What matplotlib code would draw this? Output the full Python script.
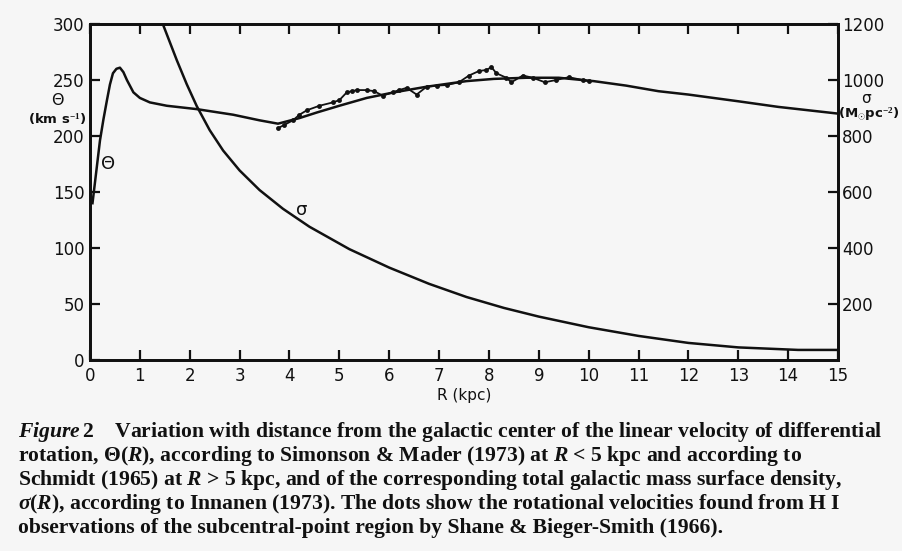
import matplotlib
matplotlib.use("Agg")
import matplotlib.pyplot as plt

plt.rcParams["font.family"] = ["DejaVu Sans"]
plt.rcParams["mathtext.fontset"] = "custom"
plt.rcParams["mathtext.rm"] = "Liberation Serif:bold"
plt.rcParams["mathtext.it"] = "Liberation Serif:italic:bold"

# Rotation curve Theta(R), km/s
theta_r = [0.05, 0.2, 0.27, 0.34, 0.4, 0.46, 0.53, 0.6, 0.67, 0.74, 0.87, 1.0,
           1.2, 1.54, 2.14, 2.87, 3.4, 3.77, 4.2, 4.55, 5.0, 5.55, 6.1, 6.75,
           7.55, 8.1, 8.75, 9.4, 10.1, 10.75, 11.4, 12.0, 13.0, 13.8, 15.0]
theta_v = [140, 196, 215, 232, 246, 256, 260, 261, 257, 250, 239, 234,
           230, 227, 224, 219, 214, 211, 216, 221, 227, 234, 239, 244,
           249, 251, 252, 252, 249, 245, 240, 237, 231, 226, 220]

# HI subcentral-point velocities (Shane & Bieger-Smith 1966)
dots_r = [3.77, 3.9, 4.07, 4.2, 4.35, 4.6, 4.87, 5.0, 5.15, 5.25, 5.35, 5.55, 5.7,
          5.87, 6.07, 6.2, 6.35, 6.55, 6.75, 6.95, 7.15, 7.4, 7.6, 7.8, 7.95,
          8.05, 8.15, 8.35, 8.45, 8.68, 8.88, 9.12, 9.35, 9.6, 9.88, 10.0]
dots_v = [207, 210, 214, 219, 223, 227, 230, 232, 239, 240, 241, 241, 240,
          236, 239, 241, 243, 237, 244, 245, 245.5, 248, 254, 258, 259,
          261.5, 256, 252, 248, 254, 252, 248, 250, 252.5, 250, 249]

# Surface mass density sigma(R), Msun/pc^2
sigma_r = [1.3, 1.46, 1.74, 1.94, 2.14, 2.4, 2.67, 3.0, 3.4, 3.87, 4.4, 5.2, 6.0,
           6.8, 7.55, 8.3, 9.0, 10.0, 11.0, 12.0, 13.0, 14.2, 15.0]
sigma_v = [1330, 1200, 1071, 985, 907, 821, 748, 677, 607, 540, 476, 396, 330,
           272, 225, 186, 155, 117, 86, 61, 45, 36, 36]

x_ticks = list(range(0, 16))
theta_ticks = [0, 50, 100, 150, 200, 250, 300]
sigma_ticks = [200, 400, 600, 800, 1000, 1200]

caption_lines = [
    r"$\it{Figure\/2}$    Variation with distance from the galactic center of the linear velocity of differential",
    r"rotation, $\Theta(R)$, according to Simonson & Mader (1973) at $R$ < 5 kpc and according to",
    r"Schmidt (1965) at $R$ > 5 kpc, and of the corresponding total galactic mass surface density,",
    r"$\sigma(R)$, according to Innanen (1973). The dots show the rotational velocities found from H I",
    r"observations of the subcentral-point region by Shane & Bieger-Smith (1966).",
]

W, H = 902, 551
bg = "#f6f6f6"
ink = "#111111"

fig = plt.figure(figsize=(W / 100, H / 100), dpi=100, facecolor=bg)
ax = fig.add_axes([90 / W, 1 - 360 / H, (838 - 90) / W, (360 - 24) / H])
ax.set_facecolor(bg)
ax2 = ax.twinx()

ax.plot(theta_r, theta_v, color=ink, lw=1.8, solid_joinstyle="round")
ax.plot(dots_r, dots_v, color=ink, lw=1.3, marker="o", ms=3.5, mew=0)
ax2.plot(sigma_r, sigma_v, color=ink, lw=1.8, solid_joinstyle="round")

ax.set_xlim(0, 15)
ax.set_ylim(0, 300)
ax2.set_ylim(0, 1200)

ax.set_xticks(x_ticks)
ax.set_yticks(theta_ticks)
ax2.set_yticks(sigma_ticks)
ax.tick_params(axis="both", direction="in", length=7, width=1.6, labelsize=12,
               colors=ink, top=True, pad=4)
ax.tick_params(axis="x", pad=5)
ax2.tick_params(axis="y", direction="in", length=7, width=1.6, labelsize=12,
                colors=ink, pad=3)
for a in (ax, ax2):
    for s in a.spines.values():
        s.set_linewidth(2.0)
        s.set_color(ink)

ax.set_xlabel("R (kpc)", fontsize=11, color=ink, labelpad=2)

# Axis titles beside the tick labels
fig.text(57 / W, 1 - 100 / H, "Θ", ha="center", va="center", fontsize=11.5, color=ink)
fig.text(57 / W, 1 - 119 / H, "(km s$^{-1}$)", ha="center", va="center", fontsize=9.5,
         color=ink, fontweight="bold")
fig.text(866 / W, 1 - 99 / H, "σ", ha="center", va="center", fontsize=11, color=ink)
fig.text(869 / W, 1 - 114 / H, "(M$_{\\odot}$pc$^{-2}$)", ha="center", va="center",
         fontsize=9.5, color=ink, fontweight="bold")

# Curve labels
ax.text(0.36, 175, "Θ", fontsize=13, color=ink, ha="center", va="center")
ax.text(4.25, 134, "σ", fontsize=13, color=ink, ha="center", va="center")

for i, line in enumerate(caption_lines):
    fig.text(18 / W, 1 - (432 + 24 * i) / H, line, ha="left", va="center",
             fontsize=15.6, family="Liberation Serif", fontweight="bold", color=ink)

fig.savefig("out.png", dpi=100, facecolor=bg)
